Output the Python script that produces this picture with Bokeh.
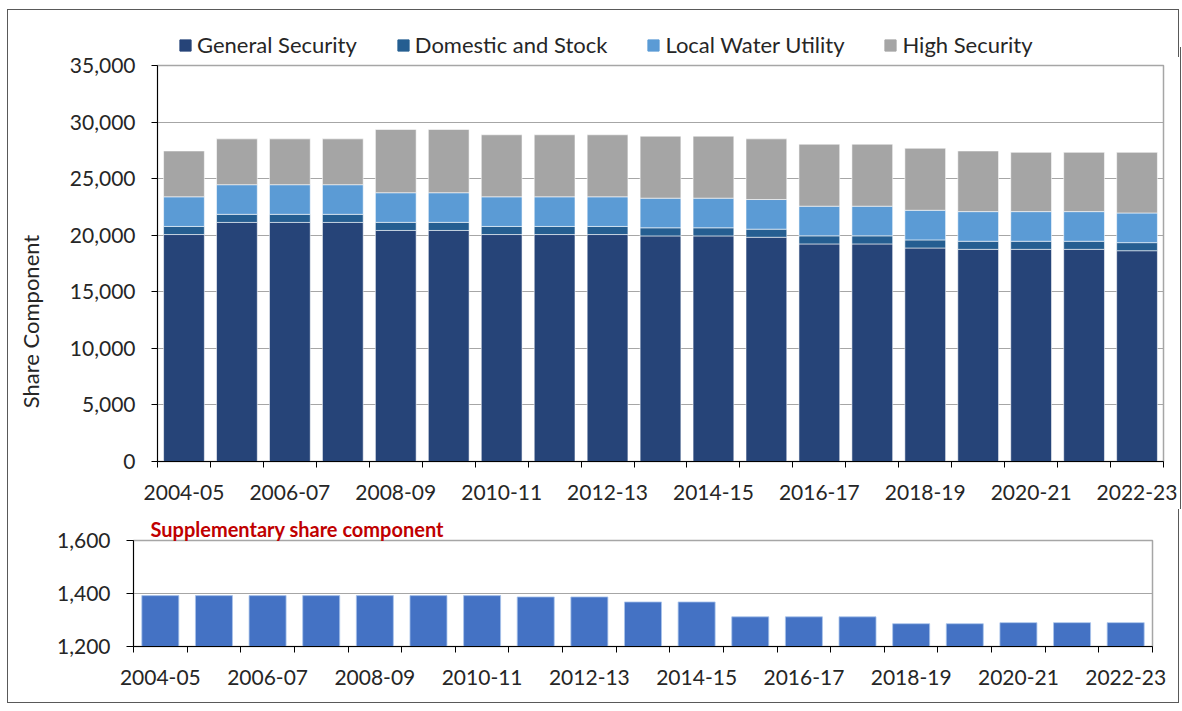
import math
from bokeh.plotting import figure
from bokeh.models import (ColumnDataSource, FixedTicker, Range1d, NumeralTickFormatter,
                          Legend, LegendItem, Label)
from bokeh.layouts import row
from bokeh.embed import file_html
from bokeh.resources import INLINE

years = ["2004-05", "2005-06", "2006-07", "2007-08", "2008-09", "2009-10", "2010-11",
         "2011-12", "2012-13", "2013-14", "2014-15", "2015-16", "2016-17", "2017-18",
         "2018-19", "2019-20", "2020-21", "2021-22", "2022-23"]
general_security = [20060, 21130, 21130, 21130, 20420, 20420, 20060, 20060, 20060, 19940,
                    19940, 19820, 19230, 19230, 18870, 18750, 18750, 18750, 18630]
domestic_stock = [715, 715, 715, 715, 715, 715, 715, 715, 715, 715,
                  715, 715, 715, 715, 715, 715, 715, 715, 715]
local_water_utility = [2620, 2620, 2620, 2620, 2620, 2620, 2620, 2620, 2620, 2620,
                       2620, 2620, 2620, 2620, 2620, 2620, 2620, 2620, 2620]
high_security = [4050, 4050, 4050, 4050, 5590, 5590, 5480, 5480, 5480, 5480,
                 5480, 5360, 5480, 5480, 5480, 5360, 5240, 5240, 5360]
supplementary = [1392, 1392, 1392, 1392, 1392, 1392, 1392, 1387, 1387, 1368,
                 1368, 1312, 1312, 1312, 1286, 1286, 1290, 1290, 1290]
series_names = ["General Security", "Domestic and Stock", "Local Water Utility", "High Security"]
series_colors = ["#264478", "#255E91", "#5B9BD5", "#A5A5A5"]
main_ticks = [0, 5000, 10000, 15000, 20000, 25000, 30000, 35000]
supp_ticks = [1200, 1400, 1600]

FONT = "Lato"
TXT = "#262626"
GRID = "#A6A6A6"
FRAME = "1px solid #595959"
W = 1172
LW = 40

n = len(years)
xs = list(range(n))
label_pos = xs[::2]
overrides = {i: years[i] for i in label_pos}
bounds = [i - 0.5 for i in range(n + 1)]

src = ColumnDataSource(dict(x=xs, gs=general_security, ds=domestic_stock,
                            lwu=local_water_utility, hs=high_security))


def style_axes(p, yticks, tick_out):
    xa = p.xaxis[0]
    xa.ticker = FixedTicker(ticks=label_pos, minor_ticks=bounds)
    xa.major_label_overrides = overrides
    xa.major_tick_out = 0
    xa.major_tick_in = 0
    xa.minor_tick_out = 6
    xa.minor_tick_in = 0
    xa.minor_tick_line_color = "black"
    xa.axis_line_color = "black"
    xa.major_label_text_font = FONT
    xa.major_label_text_font_size = "21px"
    xa.major_label_text_color = TXT
    xa.major_label_standoff = 17
    ya = p.yaxis[0]
    ya.ticker = FixedTicker(ticks=yticks)
    ya.formatter = NumeralTickFormatter(format="0,0")
    ya.major_tick_out = tick_out
    ya.major_tick_in = 0
    ya.minor_tick_line_color = None
    ya.axis_line_color = "black"
    ya.major_label_text_font = FONT
    ya.major_label_text_font_size = "21px"
    ya.major_label_text_color = TXT
    ya.major_label_standoff = 16
    p.xgrid.grid_line_color = None
    p.ygrid.grid_line_color = GRID
    p.ygrid.grid_line_width = 1.2
    p.outline_line_color = GRID
    p.outline_line_width = 1.5
    p.background_fill_color = "white"


def bare(p):
    p.grid.grid_line_color = None
    p.outline_line_color = None
    p.border_fill_alpha = 0
    p.background_fill_alpha = 0


# legend strip (top of the box); its bars lie outside its visible y range
p0 = figure(width=W, height=48, x_range=Range1d(-0.5, n - 0.5), y_range=Range1d(50000, 60000),
            output_backend="svg", toolbar_location=None, min_border=0,
            x_axis_location=None, y_axis_location=None)
bare(p0)
p0.border_fill_alpha = 1
p0.border_fill_color = "white"
legend_rs = p0.vbar_stack(["gs", "ds", "lwu", "hs"], x="x", width=0.77, source=src,
                          color=series_colors)
lg = Legend(items=[LegendItem(label=name, renderers=[r]) for name, r in zip(series_names, legend_rs)],
            location=(170, 0), orientation="horizontal", glyph_width=14, glyph_height=14,
            label_standoff=5, spacing=39, padding=0, margin=0, border_line_color=None,
            background_fill_alpha=0, label_text_font=FONT, label_text_font_size="22px",
            label_text_color=TXT)
p0.add_layout(lg)
p0.styles = {"border-left": FRAME, "border-top": FRAME, "border-right": FRAME,
             "margin-left": "7px", "margin-top": "9px"}

# y-axis title strip
pl = figure(width=LW, height=462, x_range=Range1d(0, 1), y_range=Range1d(0, 1),
            output_backend="svg", toolbar_location=None,
            min_border_left=0, min_border_right=0, min_border_top=18, min_border_bottom=48,
            x_axis_location=None, y_axis_location=None)
bare(pl)
pl.add_layout(Label(x=22, y=140, x_units="screen", y_units="screen", angle=math.pi / 2,
                    text="Share Component", text_align="center", text_baseline="middle",
                    text_font=FONT, text_font_size="22px", text_color=TXT))

# main stacked chart
p1 = figure(width=W - LW, height=462, x_range=Range1d(-0.5, n - 0.5), y_range=Range1d(0, 35000),
            output_backend="svg", toolbar_location=None,
            min_border_left=149 - LW, min_border_right=17, min_border_top=18, min_border_bottom=48)
p1.vbar_stack(["gs", "ds", "lwu", "hs"], x="x", width=0.77, source=src,
              color=series_colors, line_color="white", line_width=0.8, line_alpha=0.7)
style_axes(p1, main_ticks, 6)
p1.border_fill_alpha = 0

main_row = row(pl, p1, styles={"border-left": FRAME, "border-right": FRAME,
                               "margin-left": "7px", "margin-top": "-10px"})

# supplementary chart
p2 = figure(width=W, height=194, x_range=Range1d(-0.5, n - 0.5), y_range=Range1d(1200, 1600),
            output_backend="svg", toolbar_location=None,
            min_border_left=125, min_border_right=28, min_border_top=31, min_border_bottom=57)
p2.vbar(x=xs, top=supplementary, bottom=1200, width=0.69, fill_color="#4472C4",
        line_color="#A9C4EB", line_width=0.8)
style_axes(p2, supp_ticks, 7)
p2.border_fill_color = "white"
p2.title.text = "Supplementary share component"
p2.title.align = "left"
p2.title.offset = 17
p2.title.standoff = 0
p2.title.text_font = FONT
p2.title.text_font_size = "20px"
p2.title.text_font_style = "bold"
p2.title.text_color = "#C00000"
p2.styles = {"border-left": FRAME, "border-bottom": FRAME, "border-right": FRAME,
             "margin-left": "7px"}

open("out.html", "w").write(file_html([p0, main_row, p2], INLINE))
